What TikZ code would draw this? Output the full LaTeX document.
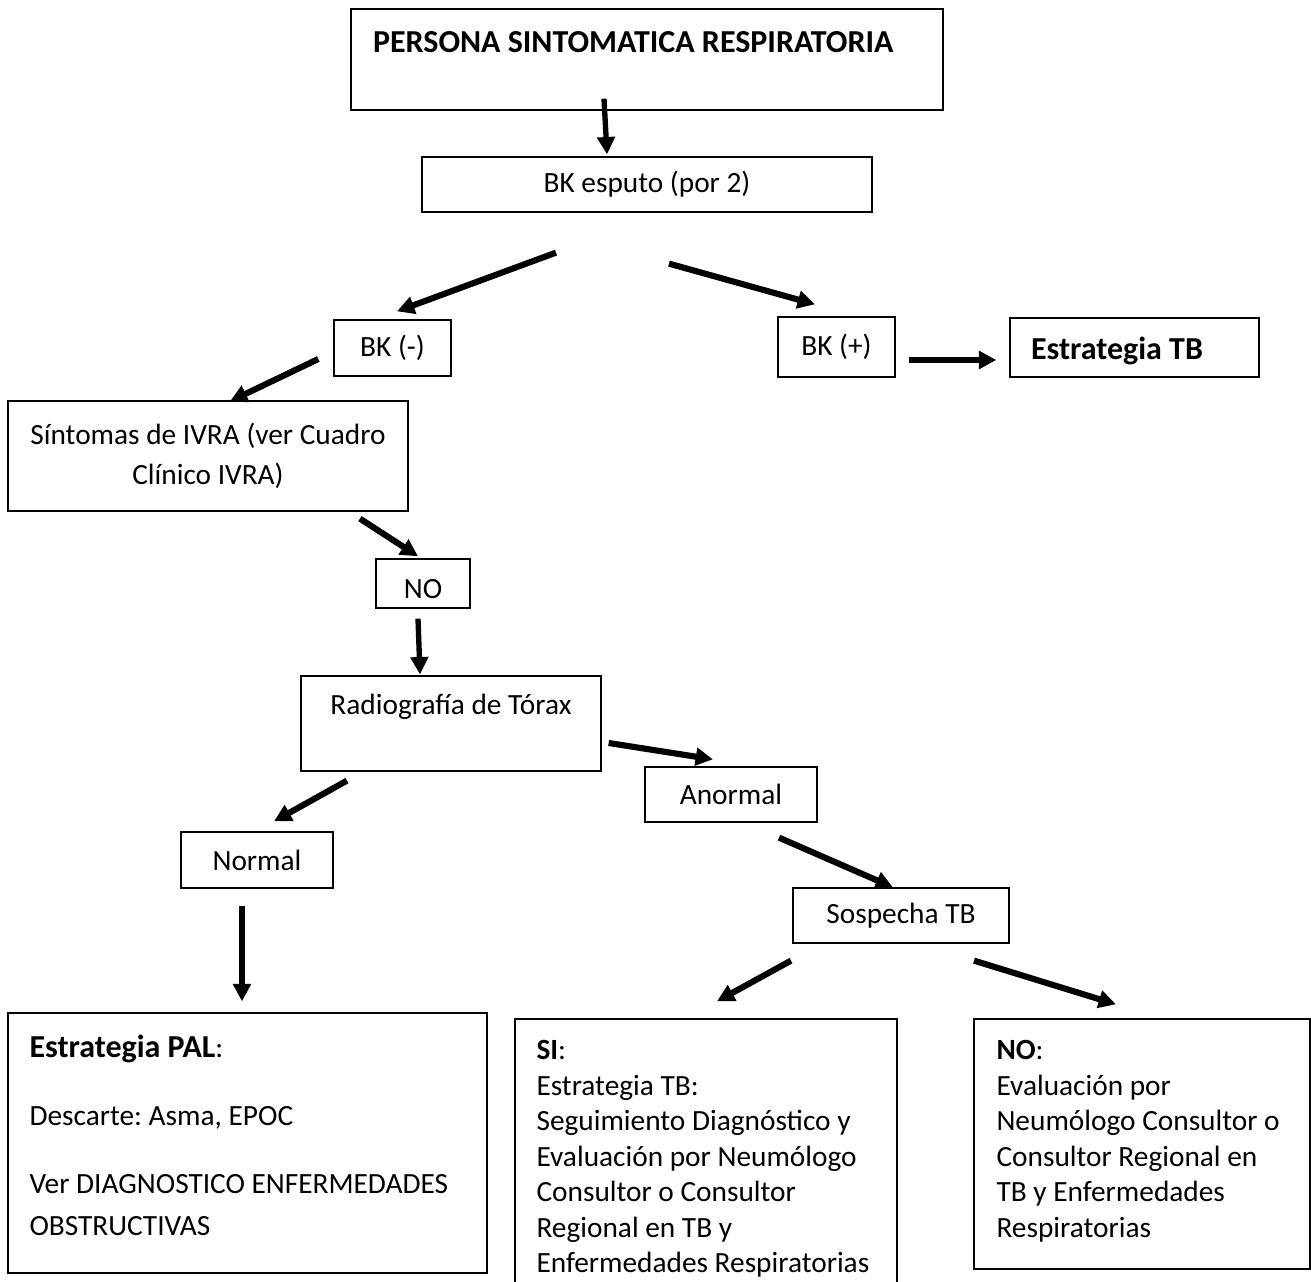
\documentclass[tikz,border=0pt]{standalone}
\usepackage{fontspec}
\setmainfont{Carlito}
\frenchspacing
\usetikzlibrary{arrows.meta}
\tikzset{
	box/.style={draw, line width=0.5pt, inner sep=0pt, align=center, font=\fontsize{11}{15}\selectfont},
	txt/.style={inner sep=0pt, anchor=north west, align=left, font=\fontsize{11}{13.3}\selectfont},
	big/.style={font=\fontsize{12}{14}\selectfont\bfseries},
	arr/.style={line width=2pt, -{Triangle[length=6.5pt,width=6.5pt]}},
	arrbold/.style={line width=2.3pt, -{Triangle[length=6.5pt,width=6.5pt]}}
}

\begin{document}
\begin{tikzpicture}[x=0.375pt, y=-0.375pt]
			%%%%% START %%%%%
			\useasboundingbox (0, 0) rectangle (1311, 1282);
			
			\node[box, big, minimum width=222pt, minimum height=37.9pt, text width=205.5pt, align=flush left, text height=7.5pt, text depth=13.1pt] (top) at (647, 59.5) {PERSONA SINTOMATICA RESPIRATORIA};
			\node[box, minimum width=168.75pt, minimum height=20.6pt] (bk) at (647, 184.5) {BK esputo (por 2)};
			
			\node[box, minimum width=43.9pt, minimum height=21pt] (bkneg) at (392.5, 348) {BK (-)};
			\node[box, minimum width=43.9pt, minimum height=22.5pt] (bkpos) at (836.5, 347) {BK (+)};
			\node[box, big, minimum width=93.4pt, minimum height=22.1pt, text width=77.6pt, align=flush left, text height=11.6pt, text depth=2.4pt] (tb) at (1134.5, 347.5) {Estrategia TB};
			
			\node[box, minimum width=150pt, minimum height=41.25pt] (ivra) at (208, 456) {Síntomas de IVRA (ver Cuadro\\ Clínico IVRA)};
			\node[box, minimum width=35.25pt, minimum height=18.4pt, text height=10.9pt, text depth=0pt] (no) at (423, 583.5) {NO};
			\node[box, minimum width=112.5pt, minimum height=35.6pt, text height=8pt, text depth=14.4pt] (rx) at (451, 723.5) {Radiografía de Tórax};
			
			\node[box, minimum width=64.5pt, minimum height=20.6pt] (anormal) at (731, 794.5) {Anormal};
			\node[box, minimum width=57pt, minimum height=21pt] (normal) at (257, 860) {Normal};
			\node[box, minimum width=81pt, minimum height=20.6pt] (sospecha) at (901, 915.5) {Sospecha TB};
			
			\node[box, minimum width=179.6pt, minimum height=97.5pt] (pal) at (247.5, 1143) {};
			\node[box, minimum width=143.25pt, minimum height=105.4pt] (si) at (706, 1159.5) {};
			\node[box, minimum width=126pt, minimum height=93.75pt] (nobox) at (1142, 1144) {};
			
			\node[txt, font=\fontsize{11}{15.4}\selectfont] (paltext) at (29, 1035) {{\fontsize{12}{14}\selectfont\textbf{Estrategia PAL}}:\\[10.1pt]Descarte: Asma, EPOC\\[10.1pt]Ver DIAGNOSTICO ENFERMEDADES\\OBSTRUCTIVAS};
			\node[txt] (sitext) at (536, 1040) {\textbf{SI}:\\Estrategia TB:\\Seguimiento Diagnóstico y\\Evaluación por Neumólogo\\Consultor o Consultor\\Regional en TB y\\Enfermedades Respiratorias};
			\node[txt] (notext) at (996, 1040) {\textbf{NO}:\\Evaluación por\\Neumólogo Consultor o\\Consultor Regional en\\TB y Enfermedades\\Respiratorias};
			
			\draw[arr] ([shift={(-43, -12)}]top.south) -- ([shift={(-40, -2)}]bk.north);
			\draw[arrbold] ([shift={(-91, 40)}]bk.south) -- ([shift={(4.5, -8)}]bkneg.north);
			\draw[arrbold] ([shift={(22, 51)}]bk.south) -- ([shift={(-21.5, -12)}]bkpos.north);
			\draw[arrbold] ([shift={(13, 13)}]bkpos.east) -- ([shift={(-13, 12.5)}]tb.west);
			
			\draw[arrbold] ([shift={(-15, 11)}]bkneg.west) -- ([shift={(22, 1)}]ivra.north);
			\draw[arrbold] ([shift={(152, 7)}]ivra.south) -- ([shift={(-5, -2)}]no.north);
			\draw[arr] ([shift={(-5, 10)}]no.south) -- ([shift={(-31, -1)}]rx.north);
			
			\draw[arrbold] ([shift={(7, 19.5)}]rx.east) -- ([shift={(-18, -7)}]anormal.north);
			\draw[arrbold] ([shift={(-104, 9)}]rx.south) -- ([shift={(17, -10)}]normal.north);
			\draw[arrbold] ([shift={(48, 15)}]anormal.south) -- ([shift={(-8, 0)}]sospecha.north);
			
			\draw[arr] ([shift={(-15, 17)}]normal.south) -- ([shift={(-5.5, -11)}]pal.north);
			\draw[arrbold] ([shift={(-110, 17)}]sospecha.south) -- ([shift={(11, -17)}]si.north);
			\draw[arrbold] ([shift={(73, 17)}]sospecha.south) -- ([shift={(-26, -14)}]nobox.north);
			
			%%%%% END %%%%%
\end{tikzpicture}
\end{document}
